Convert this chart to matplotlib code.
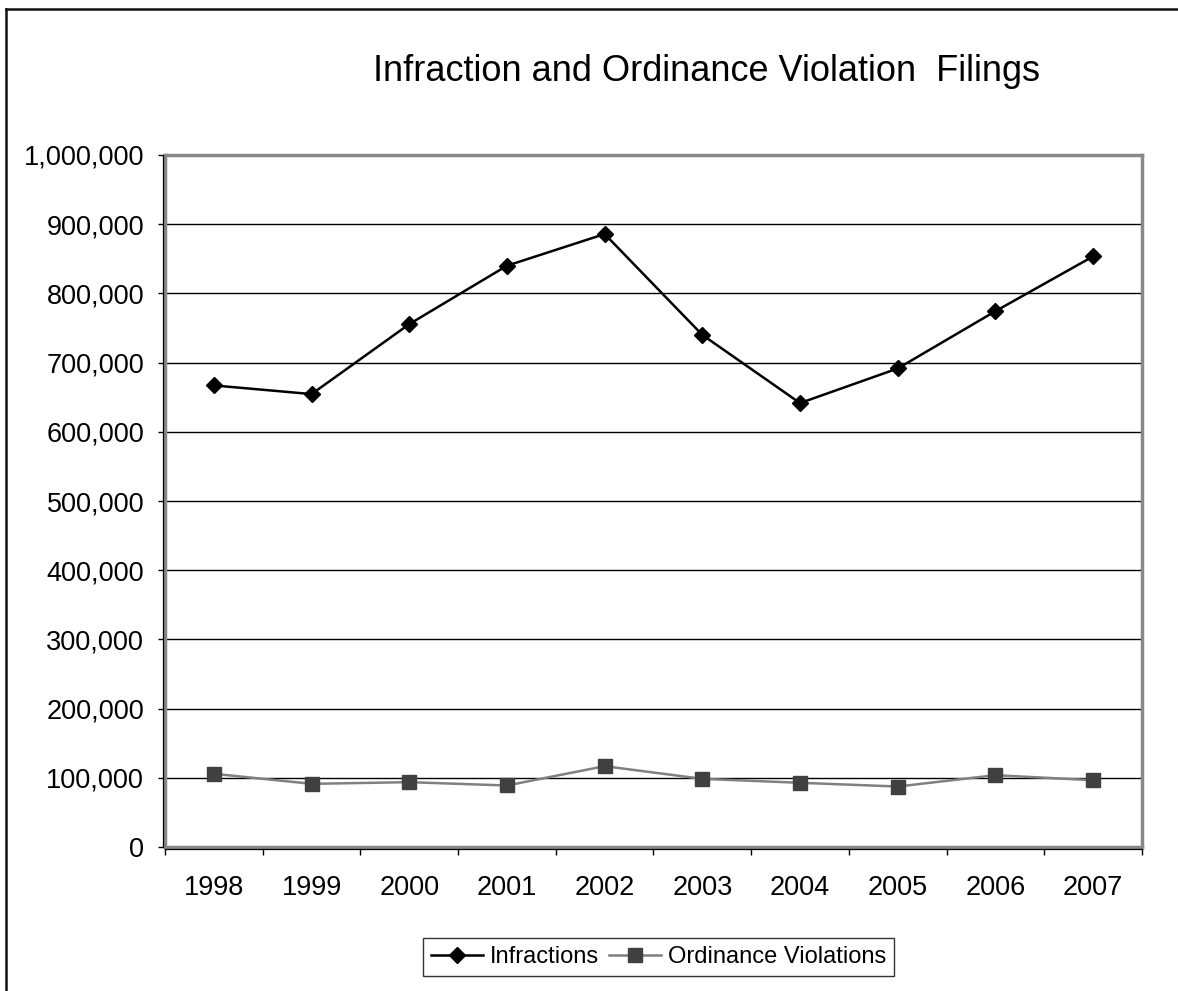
import matplotlib
matplotlib.use('Agg')
import matplotlib.pyplot as plt
import matplotlib.transforms as mtransforms
from matplotlib.lines import Line2D
from matplotlib.ticker import FuncFormatter, MultipleLocator
import numpy as np

plt.rcParams['font.family'] = ['Liberation Sans', 'DejaVu Sans']

years = ['1998', '1999', '2000', '2001', '2002', '2003', '2004', '2005', '2006', '2007']
infractions = [667000, 654500, 755600, 840000, 885800, 740000, 641500, 691500, 774300, 853500]
ordinance = [105800, 91300, 93700, 88900, 116800, 98500, 92800, 87400, 103800, 96500]

fig = plt.figure(figsize=(11.78, 9.91), dpi=100)
ax = fig.add_axes([0.1401, 0.1453, 0.8293, 0.6983])

x = np.arange(len(years))
ax.plot(x, infractions, color='black', lw=1.8, marker='D', markersize=8,
        markerfacecolor='black', markeredgecolor='black', label='Infractions', zorder=4)
ax.plot(x, ordinance, color='#808080', lw=1.8, marker='s', markersize=10,
        markerfacecolor='#404040', markeredgecolor='#404040', label='Ordinance Violations', zorder=4)

ax.set_xlim(-0.5, len(years) - 0.5)
ax.set_ylim(0, 1000000)
ax.yaxis.set_major_locator(MultipleLocator(100000))
ax.yaxis.set_major_formatter(FuncFormatter(lambda v, p: f'{int(v):,}'))
ax.grid(axis='y', color='black', lw=1, zorder=1)

ax.set_xticks(x)
ax.set_xticklabels(years)
ax.set_xticks(np.arange(-0.5, len(years)), minor=True)
ax.tick_params(axis='x', which='major', length=0, pad=20, labelsize=19.5)
ax.tick_params(axis='x', which='minor', length=6, width=1, color='black', direction='out')
ax.tick_params(axis='y', which='major', length=5, width=1, color='black', pad=10, labelsize=19.5)

for s in ax.spines.values():
    s.set_color('#888888')
    s.set_linewidth(2.5)

# thin dark axis lines just outside the grey frame
off_l = mtransforms.offset_copy(ax.transAxes, fig=fig, x=-1.2, y=0, units='points')
off_b = mtransforms.offset_copy(ax.transAxes, fig=fig, x=0, y=-1.2, units='points')
ax.plot([0, 0], [0, 1], transform=off_l, color='black', lw=0.9, clip_on=False, zorder=6)
ax.plot([0, 1], [0, 0], transform=off_b, color='black', lw=0.9, clip_on=False, zorder=6)

fig.text(0.600, 0.928, 'Infraction and Ordinance Violation  Filings',
         ha='center', va='center', fontsize=26)

leg = fig.legend(loc='center', bbox_to_anchor=(0.559, 0.0343), ncol=2, fontsize=17,
                 frameon=True, fancybox=False, edgecolor='black', handlelength=2.2,
                 handletextpad=0.3, columnspacing=0.4, borderpad=0.35)
leg.get_frame().set_linewidth(1.0)

# outer chart border (left and top edges visible)
fig.add_artist(Line2D([6 / 1178, 6 / 1178], [0, 1 - 9 / 991], transform=fig.transFigure,
                      color='#111111', lw=1.8))
fig.add_artist(Line2D([6 / 1178, 1], [1 - 9 / 991, 1 - 9 / 991], transform=fig.transFigure,
                      color='#111111', lw=1.8))

fig.savefig('out.png', dpi=100)
